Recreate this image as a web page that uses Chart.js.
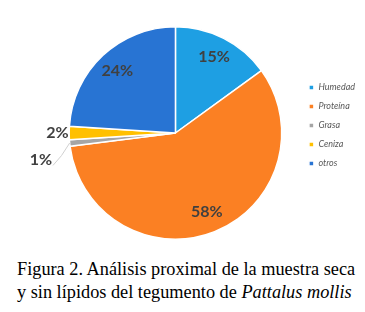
<!DOCTYPE html>
<html>
<head>
<meta charset="utf-8">
<script src="https://cdn.jsdelivr.net/npm/chart.js@4.4.1/dist/chart.umd.min.js"></script>
<style>
  html, body { margin:0; padding:0; background:#fff; }
  #wrap { position:relative; width:365px; height:312px; overflow:hidden; }
  #box { position:absolute; left:0; top:0; width:365px; height:250px; }
  #cap { position:absolute; left:17px; top:258px; width:348px; font-family:"Liberation Serif","Times New Roman",serif; font-size:18.3px; line-height:22.5px; color:#000; white-space:nowrap; }
</style>
</head>
<body>
<div id="wrap">
  <div id="box"><canvas id="c"></canvas></div>
  <div id="cap">Figura 2. Análisis proximal de la muestra seca<br>y sin lípidos del tegumento de <i>Pattalus mollis</i></div>
</div>
<script>
const categories = ["Humedad", "Proteína", "Grasa", "Ceniza", "otros"];
const values = [15, 58, 1, 2, 24];
const valueLabels = ["15%", "58%", "1%", "2%", "24%"];
const colors = ["#1e9fe3", "#fb8023", "#a5a5a5", "#ffc000", "#2874d3"];

const labelPlugin = {
  id: 'pieLabels',
  afterDatasetsDraw(chart) {
    const ctx = chart.ctx;
    const meta = chart.getDatasetMeta(0);
    ctx.save();
    ctx.font = 'bold 16px Lato, "Open Sans", sans-serif';
    ctx.fillStyle = '#404040';
    ctx.textAlign = 'center';
    ctx.textBaseline = 'middle';
    meta.data.forEach((arc, i) => {
      const p = arc.getProps(['x','y','startAngle','endAngle','outerRadius'], true);
      const mid = (p.startAngle + p.endAngle) / 2;
      const r = p.outerRadius;
      let lx, ly;
      if (values[i] >= 5) {
        lx = p.x + Math.cos(mid) * r * 0.8;
        ly = p.y + Math.sin(mid) * r * 0.8;
      } else if (values[i] >= 2) {
        lx = p.x + Math.cos(mid) * r * 1.11;
        ly = p.y + Math.sin(mid) * r * 1.11;
      } else {
        const sx = p.x + Math.cos(mid) * r;
        const sy = p.y + Math.sin(mid) * r;
        const a2 = mid - 0.1;
        lx = p.x + Math.cos(a2) * r * 1.29;
        ly = p.y + Math.sin(a2) * r * 1.29;
        ctx.strokeStyle = '#d0d0d0';
        ctx.lineWidth = 1;
        ctx.beginPath();
        ctx.moveTo(sx, sy);
        ctx.quadraticCurveTo(sx - 8, sy + 14, lx + 12, ly + 6);
        ctx.stroke();
      }
      ctx.fillText(valueLabels[i], lx, ly);
    });
    ctx.restore();
  }
};

new Chart(document.getElementById('c'), {
  type: 'pie',
  data: {
    labels: categories,
    datasets: [{
      data: values,
      backgroundColor: colors,
      borderColor: '#ffffff',
      borderWidth: 1.5
    }]
  },
  options: {
    responsive: true,
    maintainAspectRatio: false,
    animation: false,
    layout: { padding: { left: 52, top: 26, bottom: 10, right: 0 } },
    plugins: {
      tooltip: { enabled: false },
      legend: {
        position: 'right',
        align: 'start',
        title: { display: true, text: ' ', font: { size: 10 }, padding: { top: 0, bottom: 35 } },
        labels: {
          boxWidth: 5,
          boxHeight: 5,
          padding: 10,
          color: '#595959',
          font: { size: 9, style: 'italic', family: 'Lato, "Open Sans", sans-serif' }
        }
      }
    }
  },
  plugins: [labelPlugin]
});
</script>
</body>
</html>
